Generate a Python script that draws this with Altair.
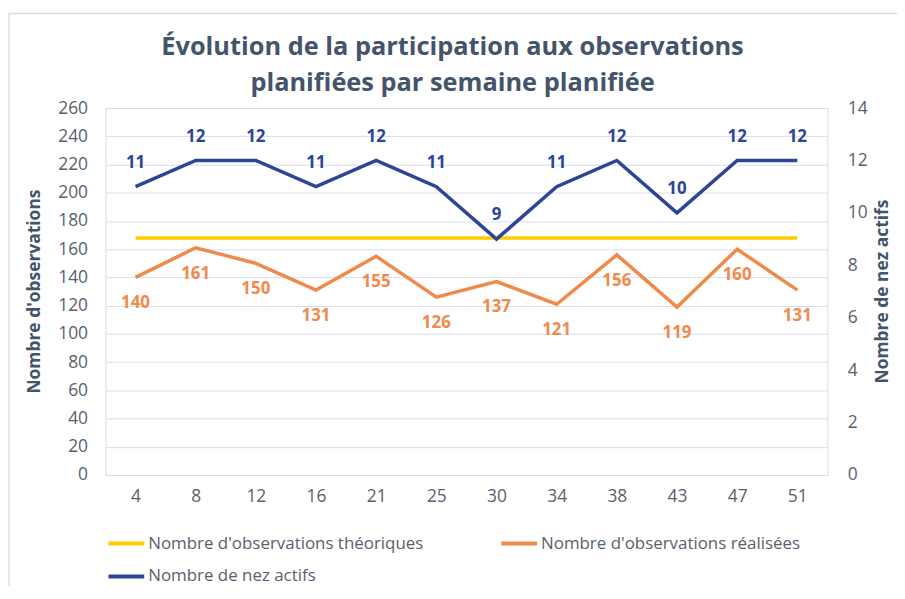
import altair as alt
import pandas as pd

weeks = ["4", "8", "12", "16", "21", "25", "30", "34", "38", "43", "47", "51"]
theoretical = [168, 168, 168, 168, 168, 168, 168, 168, 168, 168, 168, 168]
realised = [140, 161, 150, 131, 155, 126, 137, 121, 156, 119, 160, 131]
active_noses = [11, 12, 12, 11, 12, 11, 9, 11, 12, 10, 12, 12]
series_names = ["Nombre d'observations théoriques",
                "Nombre d'observations réalisées",
                "Nombre de nez actifs"]
series_colors = ["#FFCC00", "#F08A4B", "#2E4597"]
legend_order = [series_names[0], series_names[2], series_names[1]]
left_ticks = [0, 20, 40, 60, 80, 100, 120, 140, 160, 180, 200, 220, 240, 260]
right_ticks = [0, 2, 4, 6, 8, 10, 12, 14]
title_lines = ["Évolution de la participation aux observations",
               "planifiées par semaine planifiée"]

FONT = "Open Sans"
TXT = "#44546A"
LBL = "#595F6E"
GRID = "#D9DCEF"

df_left = pd.DataFrame({
    "week": weeks * 2,
    "value": theoretical + realised,
    "series": [series_names[0]] * len(weeks) + [series_names[1]] * len(weeks),
})
df_right = pd.DataFrame({
    "week": weeks,
    "value": active_noses,
    "series": [series_names[2]] * len(weeks),
})

x_enc = alt.X("week:N", sort=weeks,
              scale=alt.Scale(padding=0.5),
              axis=alt.Axis(title=None, labelAngle=0, domain=False, ticks=False,
                            labelPadding=13, labelFontSize=17.5, labelColor=LBL,
                            labelFont=FONT, grid=False))

color_enc = alt.Color("series:N",
                      scale=alt.Scale(domain=series_names, range=series_colors),
                      legend=alt.Legend(title=None, orient="none", legendX=1, legendY=418,
                                        values=legend_order,
                                        columns=2, columnPadding=70, rowPadding=5,
                                        symbolType="stroke", symbolSize=1296,
                                        symbolStrokeWidth=4, labelFontSize=17,
                                        labelFont=FONT, labelColor=LBL,
                                        labelLimit=500, labelOffset=2))

y_left = alt.Y("value:Q",
               scale=alt.Scale(domain=[0, 260], nice=False, zero=True),
               axis=alt.Axis(values=left_ticks, title="Nombre d'observations",
                             orient="left", domain=False, ticks=False,
                             labelPadding=18, labelFontSize=17.5, labelColor=LBL,
                             labelFont=FONT, gridColor=GRID, grid=True,
                             titleFont=FONT, titleFontSize=17.5, titleFontWeight="bold",
                             titleColor=TXT, titleX=-71, titleY=184, titleAngle=-90,
                             titleAlign="center", titleBaseline="middle"))

y_right = alt.Y("value:Q",
                scale=alt.Scale(domain=[0, 14], nice=False, zero=True),
                axis=alt.Axis(values=right_ticks, title="Nombre de nez actifs",
                              orient="right", domain=False, ticks=False, grid=False,
                              labelPadding=20, labelFontSize=17.5, labelColor=LBL,
                              labelFont=FONT,
                              titleFont=FONT, titleFontSize=17.5, titleFontWeight="bold",
                              titleColor=TXT, titleX=55, titleY=184, titleAngle=-90,
                              titleAlign="center", titleBaseline="middle"))

border = alt.Chart(pd.DataFrame({"a": [0]})).mark_rect(
    fill=None, stroke="#D9DCEF", strokeWidth=1.5
).encode(x=alt.value(-97), y=alt.value(-95), x2=alt.value(900), y2=alt.value(600))

left_lines = alt.Chart(df_left).mark_line(strokeWidth=3.5).encode(
    x=x_enc, y=y_left, color=color_enc)
left_labels = alt.Chart(df_left).transform_filter(
    alt.datum.series == series_names[1]
).mark_text(dy=26, fontSize=17, fontWeight="bold", font=FONT, color=series_colors[1]).encode(
    x=x_enc, y=y_left, text="value:Q")

right_lines = alt.Chart(df_right).mark_line(strokeWidth=3.5).encode(
    x=x_enc, y=y_right, color=color_enc)
right_labels = alt.Chart(df_right).mark_text(
    dy=-24, fontSize=17, fontWeight="bold", font=FONT, color=series_colors[2]).encode(
    x=x_enc, y=y_right, text="value:Q")

left = alt.layer(border, left_lines, left_labels)
right = alt.layer(right_lines, right_labels)

chart = alt.layer(left, right).resolve_scale(y="independent").properties(
    width=726, height=369,
    autosize=alt.AutoSizeParams(type="none"),
    padding={"left": 98, "top": 99, "right": 70, "bottom": 110},
    title=alt.TitleParams(text=title_lines, anchor="middle", frame="group", dx=-14,
                          offset=-84, fontSize=25.5, fontWeight="bold", font=FONT,
                          color=TXT, lineHeight=36),
).configure_view(stroke=None).configure(background="white")

chart.save("out.html", embed_options={"renderer": "svg", "actions": False})
